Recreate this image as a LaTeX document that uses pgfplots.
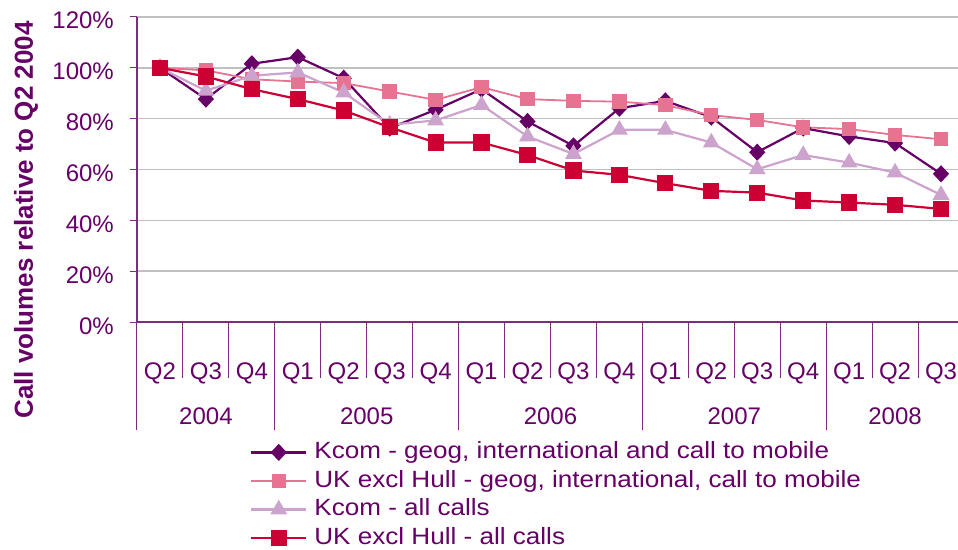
\documentclass[border=0pt]{standalone}
\usepackage{pgfplots}
\pgfplotsset{compat=1.18}
\usepackage{pgfplotstable}
\usepackage{fontspec}
\setmainfont{Liberation Sans}
\newfontfamily\legfont[FakeStretch=1.11]{Liberation Sans}
\definecolor{kdark}{RGB}{102,0,102}
\definecolor{upink}{RGB}{230,115,145}
\definecolor{klight}{RGB}{204,163,204}
\definecolor{ucrim}{RGB}{204,0,51}
\definecolor{axcol}{RGB}{125,45,125}
\definecolor{gridc}{RGB}{192,192,192}
\pgfplotstableread{
i kg ug ka ua
0 100 100 100 100
1 87.7 99 91 96.6
2 101.6 95.5 96.9 91.6
3 104.2 94.6 98.2 87.7
4 95.9 94 90.3 83.2
5 76.3 90.7 77.6 76.6
6 83.5 87.4 79.3 70.6
7 91.6 92.4 85.4 70.6
8 78.9 87.7 73 65.7
9 69.3 87 66.1 59.6
10 84.1 86.7 75.6 57.9
11 87 85.3 75.6 54.6
12 80.6 81.4 70.6 51.6
13 66.8 79.5 60.1 50.9
14 76.3 76.6 65.7 47.8
15 73 75.9 62.7 47
16 70.4 73.6 58.8 46.1
17 58.3 71.9 50 44.5
}\data
\begin{document}
\begin{tikzpicture}
\useasboundingbox (0,0) rectangle (958pt,549pt);
\begin{axis}[
 at={(137pt,227pt)}, anchor=south west,
 scale only axis, width=821pt, height=305pt,
 xmin=-0.5, xmax=17.37, ymin=0, ymax=120,
 clip=false,
 axis x line*=bottom, axis y line*=left,
 axis line style={axcol, line width=1.3pt},
 tick align=outside, major tick length=7pt,
 xtick={0,...,17},
 xticklabels={Q2,Q3,Q4,Q1,Q2,Q3,Q4,Q1,Q2,Q3,Q4,Q1,Q2,Q3,Q4,Q1,Q2,Q3},
 xtick style={draw=none},
 xticklabel style={anchor=base, inner sep=0pt, yshift=-50pt},
 ytick={0,20,...,120},
 yticklabels={0\%,20\%,40\%,60\%,80\%,100\%,120\%},
 ytick style={draw=axcol, line width=1pt},
 yticklabel style={anchor=base east, inner sep=0pt, xshift=-16pt, yshift=-12pt},
 ymajorgrids, grid style={gridc, line width=1.6pt},
 tick label style={font=\fontsize{24}{28}\selectfont, text=kdark},
 legend style={at={(axis description cs:0.1376,-0.39)}, anchor=north west,
   draw=none, fill=none, inner sep=0pt, row sep=6pt, column sep=7pt,
   font=\legfont\fontsize{23.5}{28}\selectfont, text=kdark,
   nodes={inner sep=0pt, text height=17.5pt, text depth=5pt, anchor=west}},
 legend cell align=left,
 legend image code/.code={\draw[mark repeat=2,mark phase=2,#1] plot coordinates {(0pt,0pt) (27.5pt,0pt) (55pt,0pt)};},
]
\addplot[kdark, line width=2.2pt, mark=diamond*, mark size=7pt, mark options={xscale=1.25, solid}] table[x=i,y=kg] {\data};
\addlegendentry{Kcom - geog, international and call to mobile}
\addplot[upink, line width=1.8pt, mark=square*, mark size=6.3pt] table[x=i,y=ug] {\data};
\addlegendentry{UK excl Hull - geog, international, call to mobile}
\addplot[klight, line width=2.2pt, mark=triangle*, mark size=7.5pt] table[x=i,y=ka] {\data};
\addlegendentry{Kcom - all calls}
\addplot[ucrim, line width=2.2pt, mark=square*, mark size=7pt] table[x=i,y=ua] {\data};
\addlegendentry{UK excl Hull - all calls}
\pgfplotsinvokeforeach{0.5,1.5,3.5,4.5,5.5,7.5,8.5,9.5,11.5,12.5,13.5,15.5,16.5}{
  \draw[axcol, line width=1pt] (axis cs:#1,0) -- ++(0pt,-56pt);
}
\pgfplotsinvokeforeach{-0.5,2.5,6.5,10.5,14.5}{
  \draw[axcol, line width=1pt] (axis cs:#1,0) -- ++(0pt,-108pt);
}
\node[anchor=base, font=\fontsize{24}{28}\selectfont, text=kdark, yshift=-102pt] at (axis cs:1,0) {2004};
\node[anchor=base, font=\fontsize{24}{28}\selectfont, text=kdark, yshift=-102pt] at (axis cs:4.5,0) {2005};
\node[anchor=base, font=\fontsize{24}{28}\selectfont, text=kdark, yshift=-102pt] at (axis cs:8.5,0) {2006};
\node[anchor=base, font=\fontsize{24}{28}\selectfont, text=kdark, yshift=-102pt] at (axis cs:12.5,0) {2007};
\node[anchor=base, font=\fontsize{24}{28}\selectfont, text=kdark, yshift=-102pt] at (axis cs:16,0) {2008};
\end{axis}
\node[rotate=90, font=\bfseries\fontsize{26}{30}\selectfont, text=kdark] at (26pt,329pt) {Call volumes relative to Q2 2004};
\end{tikzpicture}
\end{document}
